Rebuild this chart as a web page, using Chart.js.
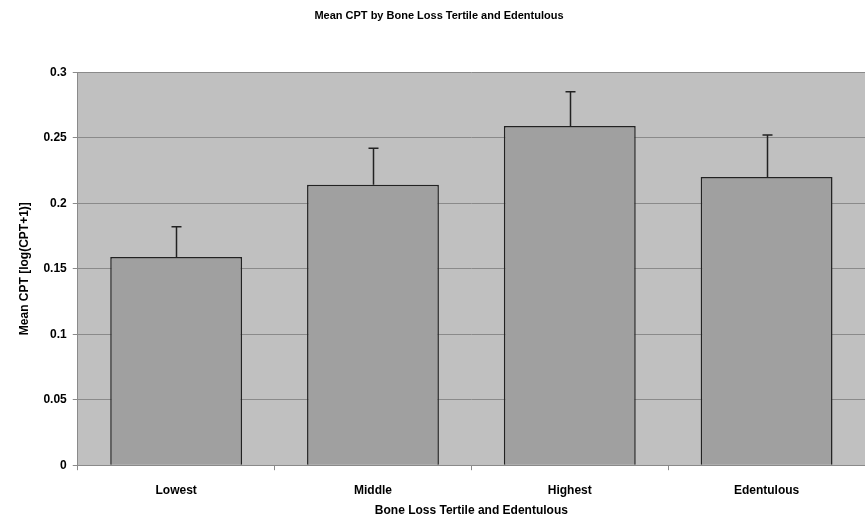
<!DOCTYPE html>
<html>
<head>
<meta charset="utf-8">
<script src="https://cdn.jsdelivr.net/npm/chart.js@4"></script>
<style>
  html, body { margin: 0; padding: 0; background: #fff; overflow: hidden; }
  #wrap { width: 865px; height: 521px; }
</style>
</head>
<body>
<div id="wrap"><canvas id="model01"></canvas></div>
<script>
const categories = ['Lowest', 'Middle', 'Highest', 'Edentulous'];
const meanCpt = [0.159, 0.214, 0.259, 0.220];
const errUpper = [0.023, 0.028, 0.026, 0.032];
const yTicks = ['0', '0.05', '0.1', '0.15', '0.2', '0.25', '0.3'];

const ctx1 = document.getElementById('model01');

// fondo gris del area de grafico
const plotBg = {
  id: 'plotBg',
  beforeDraw(chart) {
    const a = chart.chartArea;
    const c = chart.ctx;
    c.save();
    c.fillStyle = '#c0c0c0';
    c.fillRect(a.left, a.top, a.right - a.left, a.bottom - a.top);
    c.restore();
  }
};

// barras de error (solo hacia arriba)
const errorBars = {
  id: 'errorBars',
  afterDatasetsDraw(chart) {
    const c = chart.ctx;
    const y = chart.scales.y;
    const meta = chart.getDatasetMeta(0);
    c.save();
    c.strokeStyle = '#222';
    c.lineWidth = 1.5;
    meta.data.forEach((bar, i) => {
      const top = y.getPixelForValue(meanCpt[i] + errUpper[i]);
      const x = Math.round(bar.x) + 0.5;
      c.beginPath();
      c.moveTo(x, bar.y);
      c.lineTo(x, top);
      c.moveTo(x - 5, top);
      c.lineTo(x + 5, top);
      c.stroke();
    });
    c.restore();
  }
};

const data = {
  labels: categories,
  datasets: [{
    data: meanCpt,
    backgroundColor: '#a0a0a0',
    borderColor: '#222',
    borderWidth: 1.5,
    categoryPercentage: 1,
    barPercentage: 0.67
  }]
};

const maps = new Chart(ctx1, {
  type: 'bar',
  data: data,
  plugins: [plotBg, errorBars],
  options: {
    responsive: true,
    maintainAspectRatio: false,
    animation: false,
    layout: { padding: { left: 13, right: 0, top: 0, bottom: 3 } },
    plugins: {
      legend: { display: false },
      tooltip: { enabled: false },
      title: {
        display: true,
        text: 'Mean CPT by Bone Loss Tertile and Edentulous',
        color: '#000',
        font: { family: 'Liberation Sans', size: 11, weight: 'bold' },
        padding: { top: 9, bottom: 50 }
      }
    },
    scales: {
      y: {
        min: 0,
        max: 0.3,
        ticks: {
          stepSize: 0.05,
          color: '#000',
          font: { family: 'Liberation Sans', size: 12, weight: 'bold' },
          padding: 6,
          callback: (v, i) => yTicks[i]
        },
        grid: { color: '#8a8a8a', lineWidth: 1, tickLength: 5, tickColor: '#8a8a8a' },
        border: { color: '#8a8a8a' },
        title: {
          display: true,
          text: 'Mean CPT [log(CPT+1)]',
          color: '#000',
          font: { family: 'Liberation Sans', size: 12, weight: 'bold' },
          padding: { bottom: 6 }
        }
      },
      x: {
        offset: true,
        ticks: {
          color: '#000',
          font: { family: 'Liberation Sans', size: 12, weight: 'bold' },
          padding: 13
        },
        grid: { offset: true, drawOnChartArea: false, tickLength: 5, color: '#8a8a8a' },
        border: { color: '#8a8a8a' },
        title: {
          display: true,
          text: 'Bone Loss Tertile and Edentulous',
          color: '#000',
          font: { family: 'Liberation Sans', size: 12, weight: 'bold' },
          padding: { top: -7, bottom: 0 }
        }
      }
    }
  }
});
</script>
</body>
</html>
